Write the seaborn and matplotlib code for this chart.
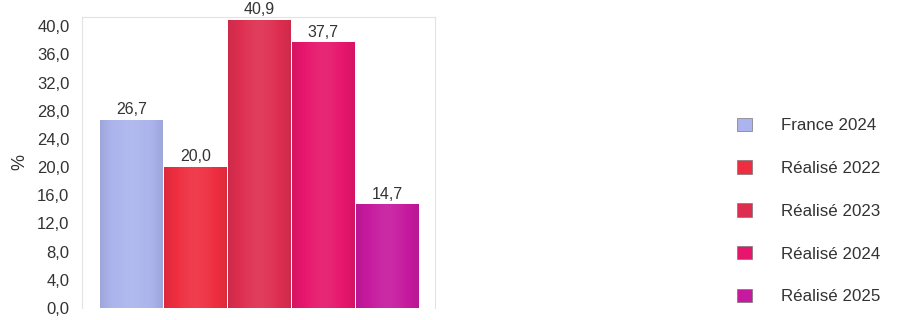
import matplotlib
matplotlib.use("Agg")
import matplotlib.pyplot as plt
import matplotlib.colors as mcolors
from matplotlib.patches import Patch
import numpy as np
import pandas as pd
import seaborn as sns

categories = ["France 2024", "Réalisé 2022", "Réalisé 2023", "Réalisé 2024", "Réalisé 2025"]
values = [26.7, 20.0, 40.9, 37.7, 14.7]
colors = ["#abb4ec", "#ee2e40", "#de2e50", "#e6166c", "#c61a9e"]
yticks = [0, 4, 8, 12, 16, 20, 24, 28, 32, 36, 40]

sns.set_theme(style="white")
plt.rcParams["font.family"] = ["Liberation Sans", "DejaVu Sans"]

df = pd.DataFrame({"cat": categories, "val": values})

fig = plt.figure(figsize=(9.01, 3.2), dpi=100)
ax = fig.add_axes([82 / 901, 1 - 308 / 320, (435 - 82) / 901, (308 - 17) / 320])

sns.barplot(data=df, x="cat", y="val", hue="cat", palette=colors, order=categories,
            hue_order=categories, dodge=False, width=0.985, legend=False, ax=ax,
            saturation=1, linewidth=0)

# subtle horizontal shading on each bar
t = np.linspace(-1, 1, 64)
shade = 1 - 0.5 * np.abs(t) ** 1.5  # 1 at center, 0.5 at edges
k = 0.3 * (shade - 0.75)
for patch, c in zip(ax.patches, colors):
    x0, y0 = patch.get_x(), patch.get_y()
    w, h = patch.get_width(), patch.get_height()
    base = np.array(mcolors.to_rgb(c))[None, :]
    kk = k[:, None]
    col = np.where(kk > 0, base + (1 - base) * kk, base * (1 + kk))
    grad = np.clip(col, 0, 1)[None, :, :]
    im = ax.imshow(grad, extent=[x0, x0 + w, y0, y0 + h], aspect="auto",
                   zorder=patch.get_zorder() + 0.1, interpolation="bilinear")
    im.set_clip_path(patch)

ax.set_xlim(-0.78, 4.75)
ax.set_ylim(0, 41.3)
ax.set_yticks(yticks)
ax.set_yticklabels([f"{v:.1f}".replace(".", ",") for v in yticks], fontsize=12, color="#333333")
ax.set_xticks([])
ax.set_xlabel("")
ax.set_ylabel("%", fontsize=13, color="#333333", labelpad=6)
ax.tick_params(axis="y", length=0, pad=9)

for s in ax.spines.values():
    s.set_color("#e2e2e2")
    s.set_linewidth(0.8)
ax.spines["bottom"].set_visible(False)

for patch, v in zip(ax.patches, values):
    ax.text(patch.get_x() + patch.get_width() / 2, v + 0.4, f"{v:.1f}".replace(".", ","),
            ha="center", va="bottom", fontsize=11.5, color="#333333", zorder=5)

handles = [Patch(facecolor=c, edgecolor="#777777", linewidth=0.5) for c in colors]
fig.legend(handles, categories, loc="center left", bbox_to_anchor=(729 / 901, 1 - 211 / 320),
           frameon=False, fontsize=12.2, labelcolor="#333333", handlelength=0.85,
           handleheight=0.85, handletextpad=1.7, labelspacing=1.6, borderpad=0)

fig.savefig("out.png", dpi=100)
